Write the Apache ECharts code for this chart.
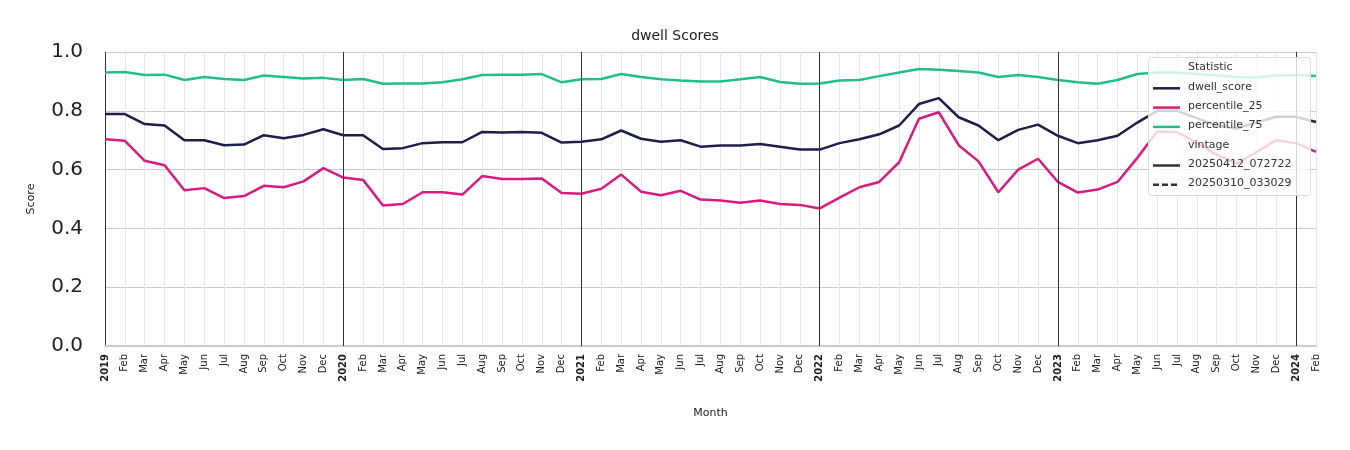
<!DOCTYPE html>
<html>
<head>
<meta charset="utf-8">
<script src="https://cdn.jsdelivr.net/npm/echarts@6/dist/echarts.min.js"></script>
<style>html,body{margin:0;padding:0;background:#fff}#c{width:1350px;height:450px}</style>
</head>
<body>
<div id="c"></div>
<script>
var monthNames = ['Jan','Feb','Mar','Apr','May','Jun','Jul','Aug','Sep','Oct','Nov','Dec'];
var years = ['2019','2020','2021','2022','2023','2024'];
var categories = [];
for (var i = 0; i < 62; i++) {
	categories.push(i % 12 === 0 ? years[i / 12] : monthNames[i % 12]);
}
var dwellScore = [
	0.789,0.789,0.755,0.75,0.70,0.70,0.683,0.685,0.717,0.707,0.718,0.737,
	0.717,0.717,0.67,0.673,0.69,0.693,0.693,0.728,0.726,0.728,0.725,0.692,
	0.695,0.703,0.733,0.705,0.695,0.70,0.678,0.682,0.682,0.687,0.678,0.668,
	0.668,0.69,0.703,0.72,0.75,0.823,0.843,0.778,0.75,0.70,0.735,0.753,
	0.715,0.69,0.70,0.715,0.76,0.80,0.80,0.775,0.75,0.74,0.76,0.78,
	0.78,0.762
];
var percentile25 = [
	0.703,0.698,0.63,0.615,0.53,0.537,0.503,0.51,0.545,0.54,0.56,0.605,
	0.573,0.565,0.478,0.483,0.523,0.523,0.515,0.578,0.568,0.568,0.57,0.52,
	0.518,0.535,0.583,0.525,0.513,0.528,0.498,0.495,0.487,0.495,0.483,0.48,
	0.468,0.505,0.54,0.558,0.625,0.773,0.795,0.683,0.628,0.523,0.60,0.637,
	0.558,0.522,0.532,0.558,0.64,0.73,0.728,0.69,0.65,0.62,0.66,0.70,
	0.69,0.66
];
var percentile75 = [
	0.93,0.932,0.922,0.923,0.905,0.915,0.908,0.905,0.92,0.915,0.91,0.912,
	0.905,0.908,0.892,0.893,0.893,0.897,0.907,0.922,0.923,0.923,0.925,0.897,
	0.907,0.908,0.925,0.915,0.907,0.903,0.90,0.90,0.907,0.915,0.898,0.892,
	0.893,0.903,0.905,0.918,0.93,0.942,0.94,0.935,0.93,0.915,0.922,0.915,
	0.905,0.897,0.892,0.905,0.925,0.93,0.93,0.925,0.92,0.915,0.913,0.92,
	0.922,0.918
];
var yTicks = ['0.0','0.2','0.4','0.6','0.8','1.0'];

var font = 'DejaVu Sans';
var chart = echarts.init(document.getElementById('c'));

function line(name, data, color, extra) {
	var s = {
		name: name, type: 'line', data: data, symbol: 'none',
		lineStyle: { color: color, width: 2.5 }, itemStyle: { color: color }
	};
	if (extra) s.markLine = extra;
	return s;
}

var yearLines = {
	silent: true, symbol: 'none', label: { show: false },
	lineStyle: { color: '#333', width: 1, type: 'solid' },
	data: [12, 24, 36, 48, 60].map(function (i) { return { xAxis: i }; })
};

var legendItems = [
	{ t: 'Statistic', head: true },
	{ t: 'dwell_score', c: '#1e1e4b' },
	{ t: 'percentile_25', c: '#d81b7f' },
	{ t: 'percentile_75', c: '#22be8a' },
	{ t: 'vintage', head: true },
	{ t: '20250412_072722', c: '#333' },
	{ t: '20250310_033029', c: '#333', dash: true }
];
var graphics = [{
	type: 'rect', left: 1148, top: 57, z: 100,
	shape: { width: 162, height: 138, r: 3 },
	style: { fill: 'rgba(255,255,255,0.8)', stroke: '#ddd', lineWidth: 1 }
}];
legendItems.forEach(function (it, k) {
	var y = 69 + k * 19.3;
	if (it.head) {
		graphics.push({ type: 'text', left: 1188, top: y - 7, z: 101,
			style: { text: it.t, font: '11px ' + font, fill: '#333' } });
	} else {
		graphics.push({ type: 'line', z: 101,
			shape: { x1: 1153, y1: y, x2: 1180, y2: y },
			style: { stroke: it.c, lineWidth: 2.5, lineDash: it.dash ? [6, 3] : null } });
		graphics.push({ type: 'text', left: 1188, top: y - 7, z: 101,
			style: { text: it.t, font: '11px ' + font, fill: '#333' } });
	}
});

chart.setOption({
	animation: false,
	title: { text: 'dwell Scores', left: 'center', top: 24,
		textStyle: { fontFamily: font, fontSize: 14, fontWeight: 'normal', color: '#222' } },
	grid: { left: 105, right: 34, top: 52, bottom: 104 },
	xAxis: {
		type: 'category', data: categories, boundaryGap: false,
		name: 'Month', nameLocation: 'middle', nameGap: 62,
		nameTextStyle: { fontFamily: font, fontSize: 11, color: '#222' },
		axisLine: { lineStyle: { color: '#ccc', width: 2 } },
		axisTick: { show: false },
		axisLabel: {
			interval: 0, rotate: 90, fontFamily: font, fontSize: 10, color: '#222',
			formatter: function (v, i) { return i % 12 === 0 ? '{b|' + v + '}' : v; },
			rich: { b: { fontWeight: 'bold', fontFamily: font, fontSize: 10 } }
		},
		splitLine: { show: true, interval: 0, lineStyle: { color: '#e6e6e6', width: 1 } }
	},
	yAxis: {
		type: 'value', min: 0, max: 1, interval: 0.2,
		name: 'Score', nameLocation: 'middle', nameGap: 68,
		nameTextStyle: { fontFamily: font, fontSize: 11, color: '#222' },
		axisLine: { show: true, lineStyle: { color: '#333' } },
		axisLabel: { fontFamily: font, fontSize: 20, color: '#222', margin: 22,
			formatter: function (v) { return yTicks[Math.round(v / 0.2)]; } },
		splitLine: { lineStyle: { color: '#c8c8c8', width: 1.2 } }
	},
	series: [
		line('dwell_score', dwellScore, '#1e1e4b', yearLines),
		line('percentile_25', percentile25, '#d81b7f'),
		line('percentile_75', percentile75, '#22be8a')
	],
	graphic: graphics
});
</script>
</body>
</html>
